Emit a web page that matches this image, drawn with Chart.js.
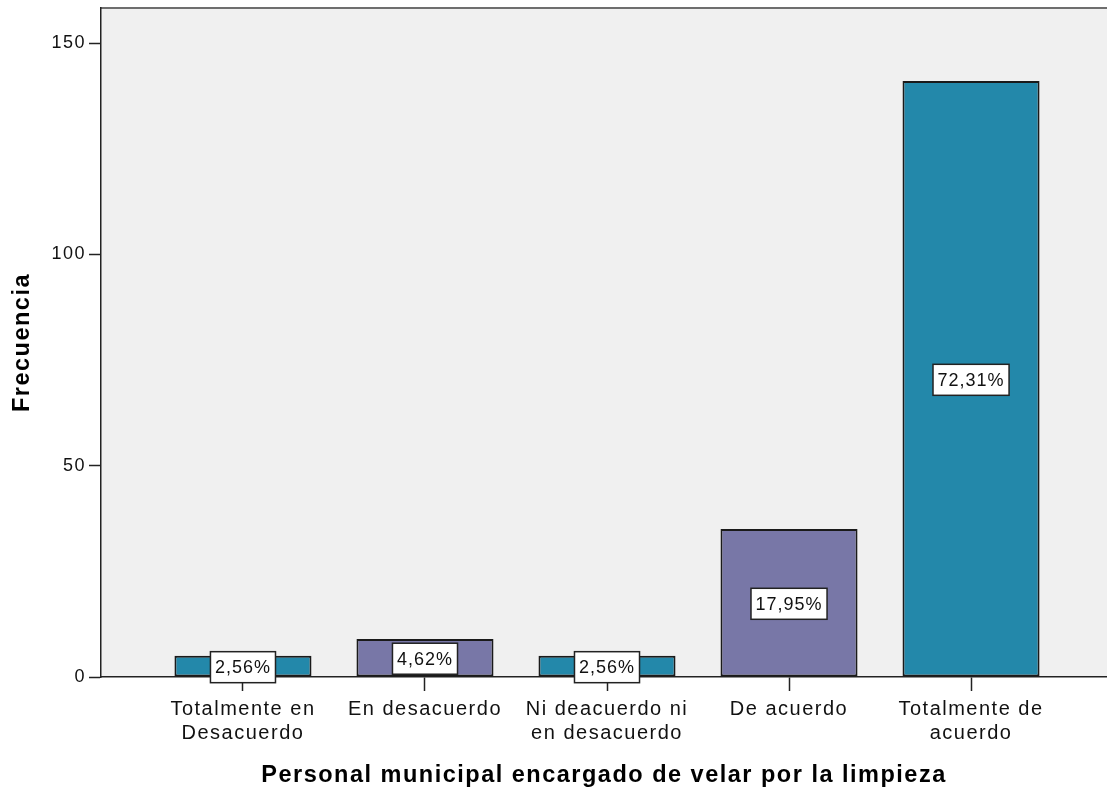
<!DOCTYPE html>
<html>
<head>
<meta charset="utf-8">
<script src="https://cdn.jsdelivr.net/npm/chart.js@4/dist/chart.umd.min.js"></script>
<style>
  html, body { margin: 0; padding: 0; background: #ffffff; }
  #wrap { width: 1107px; height: 793px; position: relative; }
</style>
</head>
<body>
<div id="wrap"><canvas id="c"></canvas></div>
<script>
// ---- data ----
const categories = [
  ['Totalmente en', 'Desacuerdo'],
  ['En desacuerdo'],
  ['Ni deacuerdo ni', 'en desacuerdo'],
  ['De acuerdo'],
  ['Totalmente de', 'acuerdo']
];
const frequencies = [5, 9, 5, 35, 141];
const percentLabels = ['2,56%', '4,62%', '2,56%', '17,95%', '72,31%'];
const barColors = ['#2388aa', '#7877a7', '#2388aa', '#7877a7', '#2388aa'];
const yTicks = [0, 50, 100, 150];
const xTitle = 'Personal municipal encargado de velar por la limpieza';
const yTitle = 'Frecuencia';

const FONT = "'Liberation Sans', Arial, sans-serif";

const spacingPlugin = {
  id: 'spacing',
  beforeUpdate(chart) { chart.ctx.letterSpacing = '1.5px'; },
  beforeDraw(chart) { chart.ctx.letterSpacing = '1.5px'; }
};

const plotBgPlugin = {
  id: 'plotBg',
  beforeDraw(chart) {
    const {ctx, chartArea: a} = chart;
    ctx.save();
    ctx.fillStyle = '#f0f0f0';
    ctx.fillRect(a.left, a.top, a.right - a.left, a.bottom - a.top);
    ctx.strokeStyle = '#6e6e6e';
    ctx.lineWidth = 2;
    ctx.beginPath();
    ctx.moveTo(a.left, a.top);
    ctx.lineTo(a.right, a.top);
    ctx.stroke();
    ctx.restore();
  }
};

const pctLabelPlugin = {
  id: 'pctLabels',
  afterDatasetsDraw(chart) {
    const {ctx} = chart;
    const meta = chart.getDatasetMeta(0);
    ctx.save();
    ctx.letterSpacing = '1px';
    ctx.font = '18px ' + FONT;
    ctx.textAlign = 'center';
    ctx.textBaseline = 'middle';
    meta.data.forEach((el, i) => {
      const txt = percentLabels[i];
      const cx = el.x;
      const cy = (el.y + el.base) / 2 + 1;
      const w = ctx.measureText(txt).width + 9;
      const h = 31;
      ctx.fillStyle = '#ffffff';
      ctx.fillRect(cx - w / 2, cy - h / 2, w, h);
      ctx.strokeStyle = '#222222';
      ctx.lineWidth = 1.5;
      ctx.strokeRect(cx - w / 2, cy - h / 2, w, h);
      ctx.fillStyle = '#111111';
      ctx.fillText(txt, cx, cy + 1);
    });
    ctx.restore();
  }
};

new Chart(document.getElementById('c'), {
  type: 'bar',
  data: {
    datasets: [{
      data: frequencies.map((v, i) => ({x: i, y: v})),
      backgroundColor: barColors,
      borderColor: '#1a1a1a',
      borderWidth: 2,
      borderSkipped: false,
      categoryPercentage: 1,
      barPercentage: 0.753
    }]
  },
  options: {
    responsive: true,
    maintainAspectRatio: false,
    animation: false,
    layout: { padding: { top: 8, right: 0, left: 0, bottom: 0 } },
    plugins: { legend: { display: false }, tooltip: { enabled: false } },
    scales: {
      x: {
        type: 'linear',
        offset: false,
        min: -0.78,
        max: 4.747,
        afterFit(scale) {
          scale.height = 116;
          scale.paddingLeft = 0; scale.paddingRight = 0;
        },
        afterBuildTicks(scale) {
          scale.ticks = categories.map((c, i) => ({value: i}));
        },
        grid: { offset: false, drawOnChartArea: false, tickLength: 14, color: '#222', tickWidth: 1.5 },
        border: { display: true, color: '#222', width: 1.5 },
        ticks: {
          padding: 6,
          color: '#111',
          font: { family: FONT, size: 20, lineHeight: 1.2 },
          maxRotation: 0,
          autoSkip: false,
          callback: (v) => categories[v]
        },
        title: {
          display: true,
          text: xTitle,
          color: '#000',
          font: { family: FONT, size: 23.5, weight: 'bold', lineHeight: 1.2 },
          padding: { top: 0, bottom: 3 }
        }
      },
      y: {
        min: 0,
        max: 158.3,
        afterFit(scale) {
          scale.width = 101;
          scale.paddingTop = 0; scale.paddingBottom = 0;
        },
        afterBuildTicks(scale) {
          scale.ticks = yTicks.map(v => ({value: v}));
        },
        grid: { drawOnChartArea: false, tickLength: 12, color: '#222', tickWidth: 1.5 },
        border: { display: true, color: '#222', width: 1.5 },
        ticks: {
          padding: 3,
          color: '#111',
          font: { family: FONT, size: 18 },
          callback: (v) => String(v)
        },
        title: {
          display: true,
          text: yTitle,
          color: '#000',
          font: { family: FONT, size: 23.5, weight: 'bold', lineHeight: 1.2 },
          padding: { top: 8, bottom: 0 }
        }
      }
    }
  },
  plugins: [spacingPlugin, plotBgPlugin, pctLabelPlugin]
});
</script>
</body>
</html>
